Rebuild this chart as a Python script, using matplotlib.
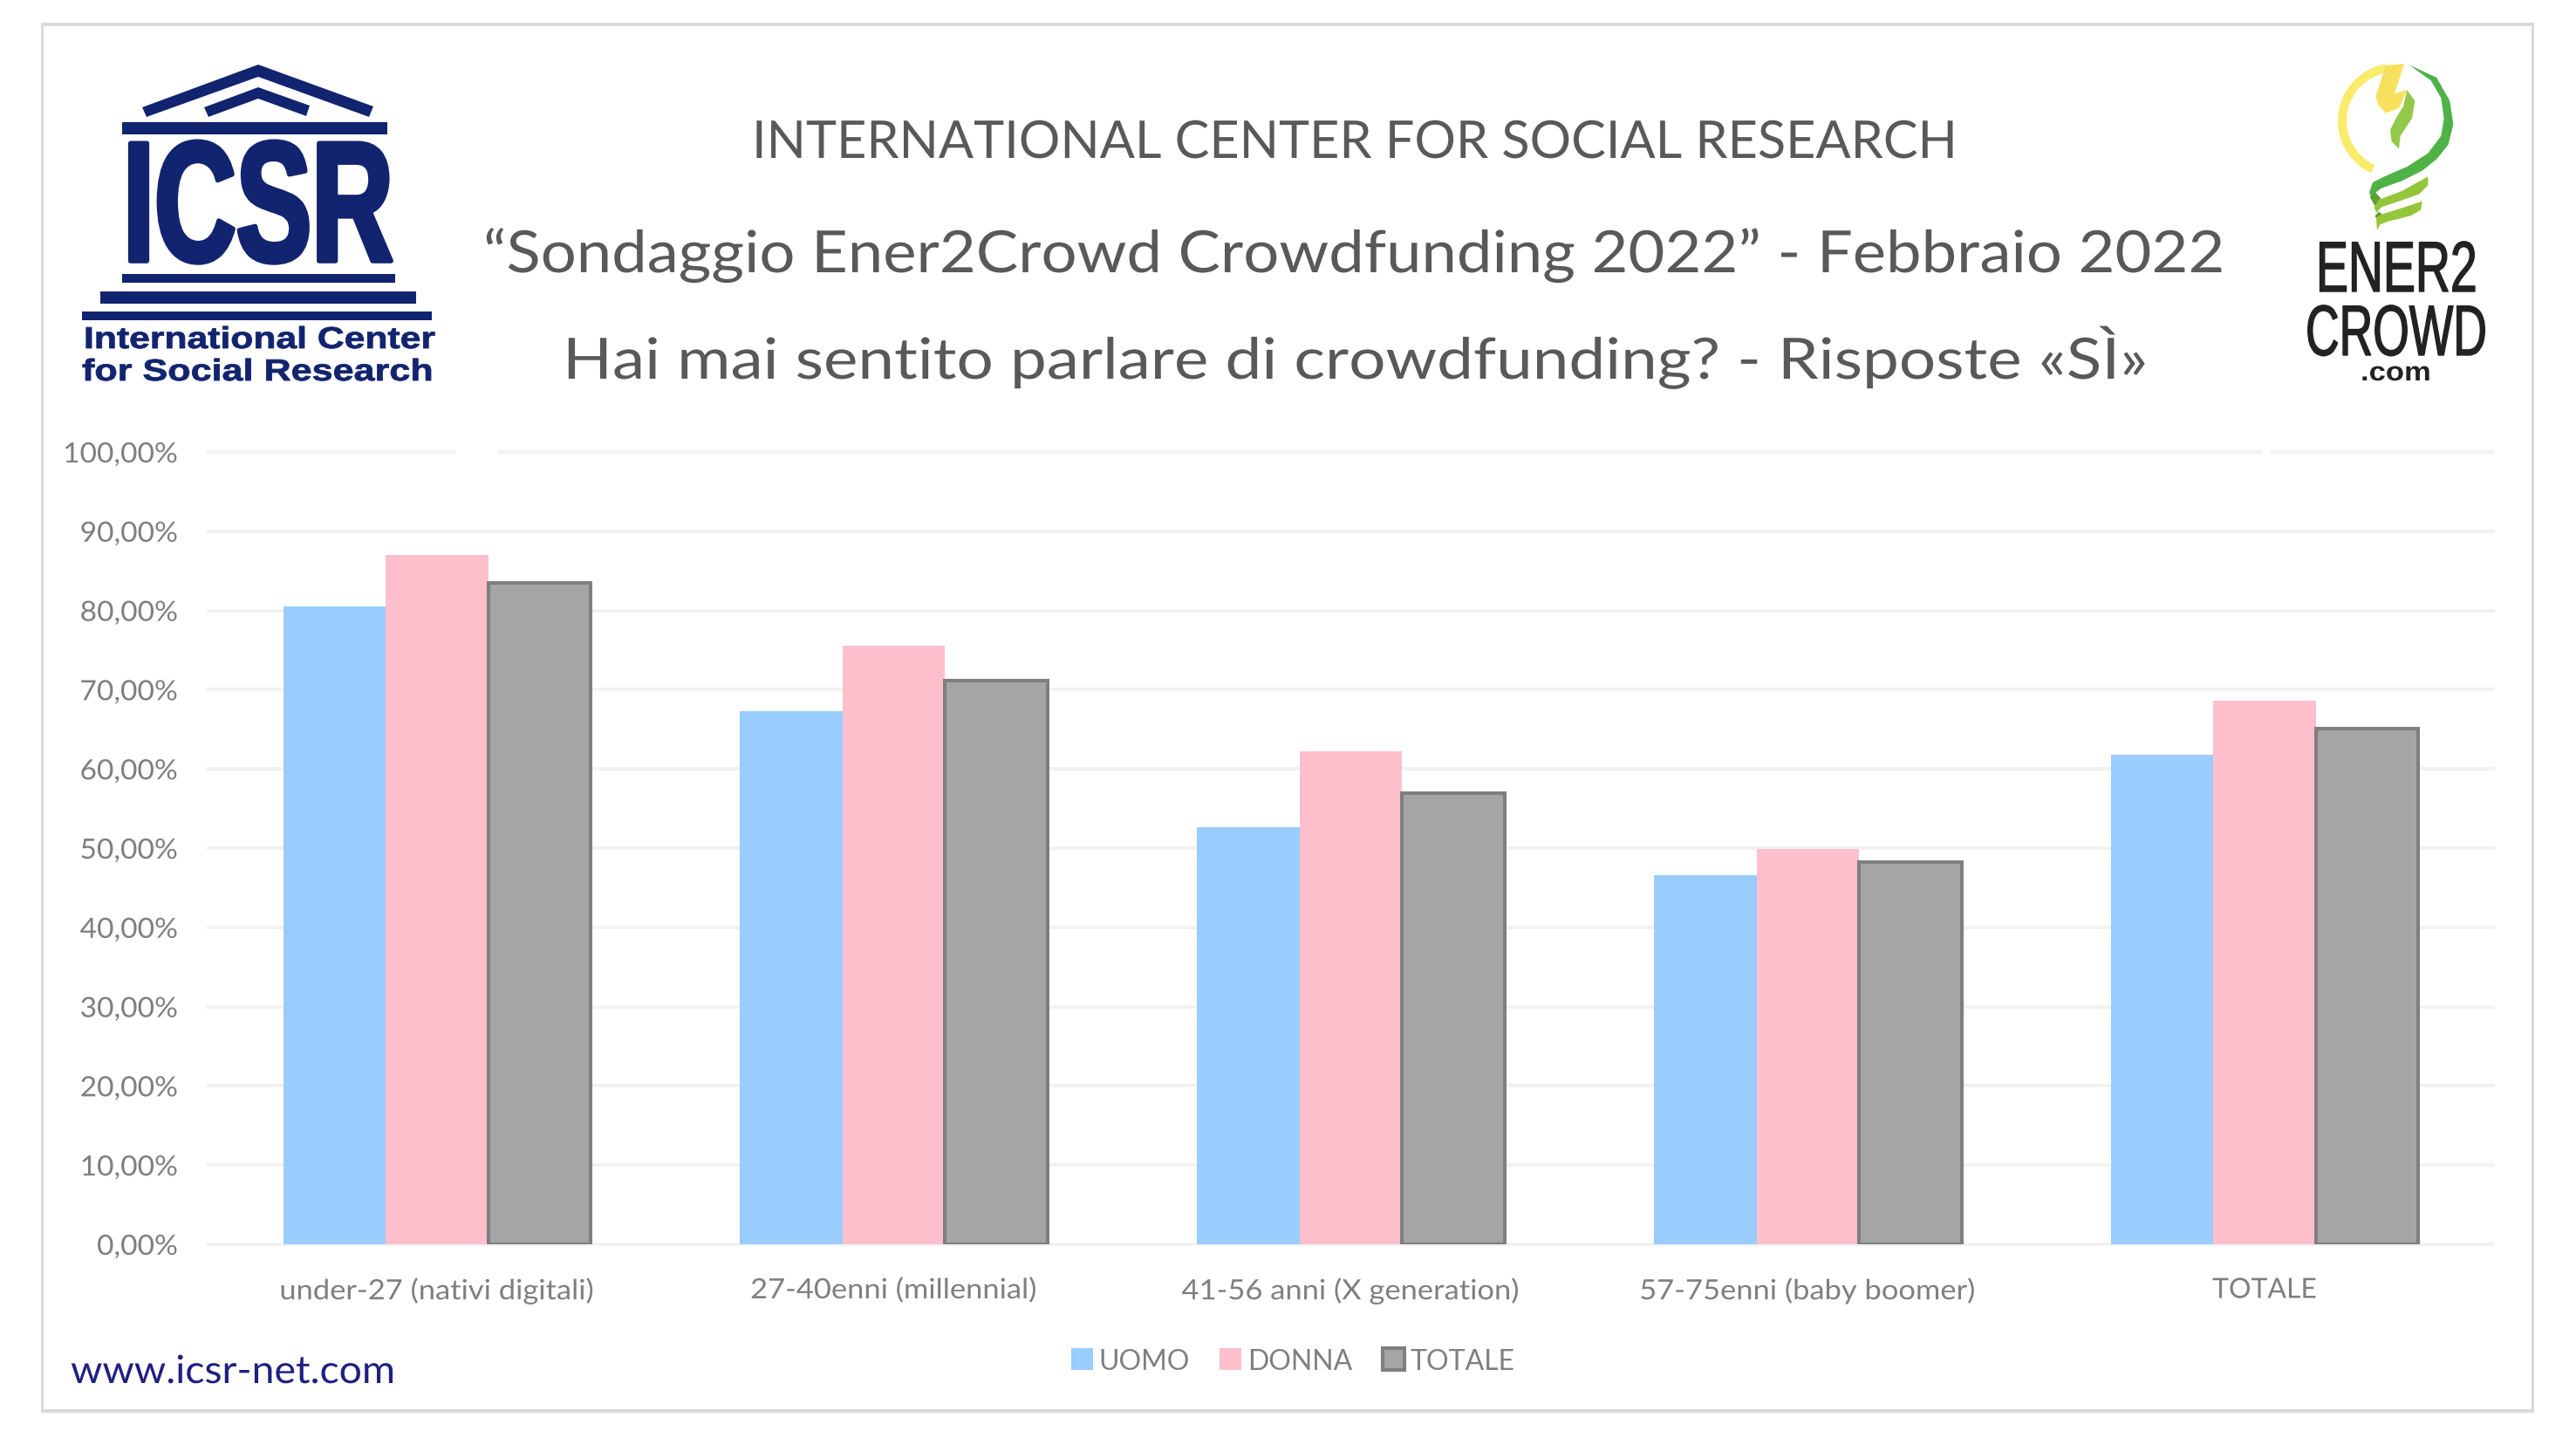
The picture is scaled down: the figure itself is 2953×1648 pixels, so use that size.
import numpy as np
import matplotlib
matplotlib.use("Agg")
import matplotlib.pyplot as plt
import matplotlib.patheffects as pe
from matplotlib.patches import Polygon, Rectangle, Wedge
from matplotlib.transforms import Affine2D

# Data
categories = ["under-27 (nativi digitali)", "27-40enni (millennial)", "41-56 anni (X generation)",
              "57-75enni (baby boomer)", "TOTALE"]
uomo = [80.5, 67.3, 52.6, 46.6, 61.8]
donna = [87.0, 75.6, 62.2, 49.9, 68.6]
totale = [83.5, 71.2, 56.9, 48.2, 65.1]
y_ticks = [0, 10, 20, 30, 40, 50, 60, 70, 80, 90, 100]
y_labels = ["0,00%", "10,00%", "20,00%", "30,00%", "40,00%", "50,00%", "60,00%", "70,00%", "80,00%", "90,00%",
            "100,00%"]

W, H = 2953, 1649
NAVY = "#12246f"
TITLE = "#595959"
GREY = "#7f7f7f"
NARROW = ["Liberation Sans Narrow", "Liberation Sans"]

plt.rcParams["font.family"] = ["Lato", "DejaVu Sans"]
fig = plt.figure(figsize=(W / 100, H / 100), dpi=100, facecolor="white")


# Squeezes a text horizontally around x0 so it fits a given width
class Squeeze(pe.AbstractPathEffect):
    def __init__(self, sx, x0, stroke=0):
        super().__init__()
        self.sx = sx
        self.x0 = x0
        self.stroke = stroke

    def draw_path(self, renderer, gc, tpath, affine, rgbFace=None):
        t = affine + Affine2D().translate(-self.x0, 0).scale(self.sx, 1).translate(self.x0, 0)
        gc0 = renderer.new_gc()
        gc0.copy_properties(gc)
        gc0.set_linewidth(self.stroke)
        gc0.set_foreground(rgbFace)
        renderer.draw_path(gc0, tpath, t, rgbFace)
        gc0.restore()


# Main chart
ax = fig.add_axes([239 / W, 1 - 1427 / H, 2619 / W, 908 / H])
x = np.arange(len(categories))
width = 0.2245
ax.bar(x - width, uomo, width, color="#99ccff", label="UOMO", zorder=3)
ax.bar(x, donna, width, color="#ffbfcc", label="DONNA", zorder=3)
ax.bar(x + width, totale, width, color="#a5a5a5", edgecolor=GREY, linewidth=2.9, label="TOTALE", zorder=4)

ax.set_xlim(-0.5, len(categories) - 0.5)
ax.set_ylim(0, 100)
ax.set_yticks(y_ticks)
ax.set_yticklabels(y_labels)
ax.set_xticks(x)
ax.set_xticklabels(categories)
ax.tick_params(axis="y", length=0, pad=25, labelsize=23, labelcolor=GREY)
ax.tick_params(axis="x", length=0, pad=27, labelsize=23, labelcolor=GREY)
for s in ax.spines.values():
    s.set_visible(False)
ax.grid(axis="y", color="#f2f2f2", linewidth=2.9, zorder=0)
ax.set_axisbelow(True)
for line in ax.get_ygridlines():
    line.set_clip_on(False)

# Original labels are letter-spaced, widen them a bit to the same extent
for pos, lab in zip(x, ax.get_xticklabels()):
    cx = ax.transData.transform((pos, 0))[0]
    lab.set_path_effects([Squeeze(1.0 if lab.get_text() == "TOTALE" else 1.08, cx)])
for lab in ax.get_yticklabels():
    lab.set_path_effects([Squeeze(1.05, 205)])

ax.legend(loc="center", bbox_to_anchor=(1482 / W, 1 - 1561 / H), bbox_transform=fig.transFigure, ncols=3,
          frameon=False, fontsize=23, labelcolor=GREY, handlelength=0.78, handleheight=0.82,
          handletextpad=0.2, columnspacing=1.1)

# Overlay in pixel coordinates for frame, titles and logos
over = fig.add_axes([0, 0, 1, 1], zorder=5)
over.set_xlim(0, W)
over.set_ylim(H, 0)
over.axis("off")


def put(x0, x1, base, s, size, color, stroke=0, **kw):
    cx = (x0 + x1) / 2
    t = over.text(cx, base, s, fontsize=size, color=color, ha="center", va="baseline", **kw)
    w = t.get_window_extent(fig.canvas.get_renderer()).width
    t.set_path_effects([Squeeze((x1 - x0) / w, cx, stroke)])
    return t


def box(x0, y0, x1, y1, color):
    over.add_patch(Rectangle((x0, y0), x1 - x0, y1 - y0, facecolor=color, edgecolor="none"))


# Frame
box(47, 27, 2905, 31, "#d9d9d9")
box(47, 1616, 2905, 1620, "#d9d9d9")
box(47, 27, 50, 1620, "#d9d9d9")
box(2902, 27, 2905, 1620, "#d9d9d9")

# Small white gaps in the top gridline
box(522, 514, 571, 524, "white")
box(2593, 514, 2603, 524, "white")

# Titles
put(862, 2244, 182, "INTERNATIONAL CENTER FOR SOCIAL RESEARCH", 43, TITLE)
put(554, 2550, 313, "“Sondaggio Ener2Crowd Crowdfunding 2022” - Febbraio 2022", 48, TITLE)
put(645, 2462, 435, "Hai mai sentito parlare di crowdfunding? - Risposte «SÌ»", 47, TITLE)
put(81, 454, 1586, "www.icsr-net.com", 32, "#1f2080")

# ICSR logo
over.add_patch(Polygon([(163, 124), (296, 75), (428, 123), (423, 135), (296, 89), (168, 135)], color=NAVY, lw=0))
over.add_patch(Polygon([(234, 124), (296, 101), (355, 122), (351, 134), (296, 114), (239, 135)], color=NAVY, lw=0))
box(140, 141, 444, 155, NAVY)
box(140, 315, 453, 325, NAVY)
box(115, 335, 477, 349, NAVY)
box(94, 358, 495, 368, NAVY)
put(141, 451, 300, "ICSR", 141, NAVY, stroke=4, family=NARROW, fontweight="bold")
put(96, 499, 400, "International Center", 25, NAVY, stroke=0.6, family="Liberation Sans", fontweight="bold")
put(94, 497, 437, "for Social Research", 25, NAVY, stroke=0.6, family="Liberation Sans", fontweight="bold")


# Ener2Crowd logo, points taken from the zoomed crop
def bulb(pts, color):
    over.add_patch(Polygon([(2500 + a / 3, b / 3) for a, b in pts], color=color, lw=0))


over.add_patch(Wedge((2746, 139.5), 66, -245, -100, width=10, color="#f9ec6b", lw=0))
bulb([(785, 226), (880, 270), (925, 350), (937, 430), (920, 500), (880, 550), (830, 590), (760, 625), (690, 650),
      (670, 665), (685, 685), (665, 705), (648, 665), (660, 630), (700, 610), (780, 575), (850, 530), (895, 470),
      (905, 410), (895, 340), (860, 280)], "#4fb247")
bulb([(650, 680), (668, 665), (688, 685), (668, 712)], "#5f9e2f")
bulb([(850, 610), (850, 640), (820, 670), (750, 695), (690, 715), (672, 735), (665, 715), (680, 690), (760, 660)],
     "#95c53a")
bulb([(668, 745), (682, 730), (695, 745), (678, 765)], "#5f9e2f")
bulb([(830, 695), (825, 725), (790, 745), (710, 765), (685, 775), (675, 795), (672, 750), (690, 740), (770, 715)],
     "#95c53a")
bulb([(705, 228), (768, 222), (735, 325), (778, 312), (750, 375), (705, 392), (680, 365), (670, 335)], "#f6e05e")
bulb([(778, 312), (805, 350), (795, 410), (755, 470), (750, 515), (725, 490), (720, 450), (745, 400), (765, 370)],
     "#93c84a")
put(2655, 2840, 335, "ENER2", 59, "#222222", stroke=1, family=NARROW)
put(2643, 2851, 408, "CROWD", 59, "#222222", stroke=1, family=NARROW)
put(2706, 2787, 437, ".com", 22, "#222222", family="Liberation Sans", fontweight="bold")

fig.savefig("out.png", dpi=100, facecolor="white")
